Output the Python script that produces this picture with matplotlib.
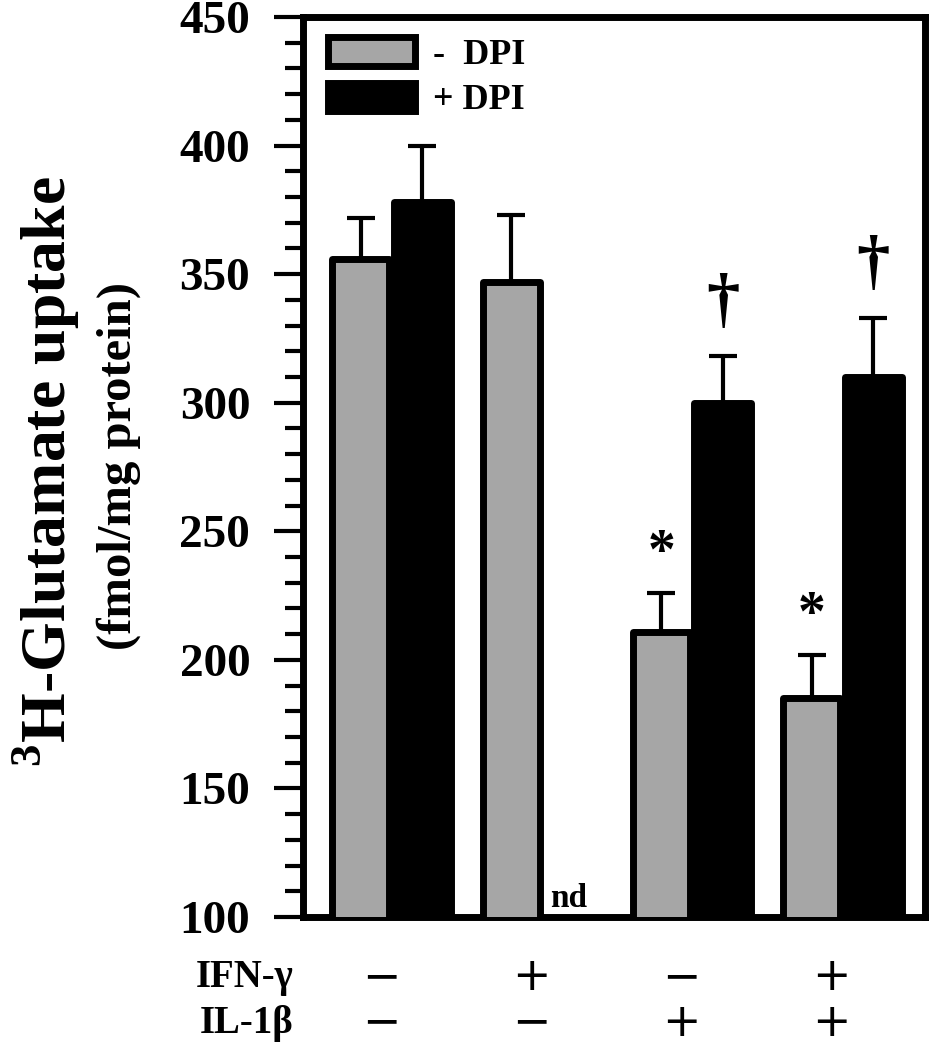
import numpy as np
import matplotlib.pyplot as plt
from matplotlib.ticker import MultipleLocator

plt.rcParams['font.family'] = ['Liberation Serif', 'DejaVu Serif']
plt.rcParams['font.weight'] = 'bold'
plt.rcParams['mathtext.fontset'] = 'custom'
plt.rcParams['mathtext.rm'] = 'Liberation Serif:bold'
plt.rcParams['mathtext.bf'] = 'Liberation Serif:bold'

# data
groups = ['ctrl', 'IFN', 'IL1', 'IFN+IL1']
minus_dpi = [356, 347, 211, 185]
minus_dpi_err = [16, 26, 15, 17]
plus_dpi = [378, np.nan, 300, 310]     # nd for IFN-gamma alone
plus_dpi_err = [22, np.nan, 18, 23]
ifn_row = ['\u2212', '+', '\u2212', '+']
il1_row = ['\u2212', '\u2212', '+', '+']
stars_minus = ['', '', '*', '*']
daggers_plus = ['', '', '\u2020', '\u2020']

gray = '#a6a6a6'
x = np.arange(len(groups))
w = 0.38
off = 0.205

fig = plt.figure(figsize=(9.36, 10.5), dpi=100)
ax = fig.add_axes([0.3237, 0.1267, 0.6645, 0.8571])

ax.bar(x - off, minus_dpi, w, color=gray, edgecolor='black', linewidth=5,
       joinstyle='round', label='-  DPI', zorder=3)
ax.bar(x + off, np.nan_to_num(plus_dpi), w, color='black', edgecolor='black',
       linewidth=5, joinstyle='round', label='+ DPI', zorder=3)

ax.errorbar(x - off, minus_dpi, yerr=[np.zeros(4), minus_dpi_err], fmt='none',
            ecolor='black', elinewidth=3, capsize=10, capthick=3, zorder=2)
ax.errorbar(x + off, plus_dpi, yerr=[np.zeros(4), plus_dpi_err], fmt='none',
            ecolor='black', elinewidth=3, capsize=10, capthick=3, zorder=2)

# significance marks
for i in range(len(groups)):
    if stars_minus[i]:
        ax.annotate(stars_minus[i], (x[i] - off, minus_dpi[i] + minus_dpi_err[i]),
                    xytext=(0, 28), textcoords='offset points', ha='center',
                    va='center', fontsize=40)
    if daggers_plus[i]:
        ax.annotate(daggers_plus[i], (x[i] + off, plus_dpi[i] + plus_dpi_err[i]),
                    xytext=(0, 38), textcoords='offset points', ha='center',
                    va='center', fontsize=48)
    if np.isnan(plus_dpi[i]):
        ax.annotate('nd', (x[i] + off, 100), xytext=(-3, 2), textcoords='offset points',
                    ha='center', va='bottom', fontsize=24)

ax.set_ylim(100, 450)
ax.set_xlim(-0.59, 3.55)
ax.yaxis.set_major_locator(MultipleLocator(50))
ax.yaxis.set_minor_locator(MultipleLocator(10))
ax.tick_params(axis='y', which='major', direction='out', length=21, width=3,
               labelsize=34, pad=17)
ax.tick_params(axis='y', which='minor', direction='out', length=13, width=3)
ax.set_xticks([])
for sp in ax.spines.values():
    sp.set_linewidth(5)

# condition table under the axis
xt = ax.get_xaxis_transform()
for i in range(len(groups)):
    ax.text(x[i] - 0.07, -0.067, ifn_row[i], transform=xt, ha='center', va='center',
            fontsize=33, fontweight='normal', family='DejaVu Sans')
    ax.text(x[i] - 0.07, -0.118, il1_row[i], transform=xt, ha='center', va='center',
            fontsize=33, fontweight='normal', family='DejaVu Sans')
ax.text(-0.016, -0.067, 'IFN-\u03b3', transform=ax.transAxes, ha='right', va='center',
        fontsize=28)
ax.text(-0.016, -0.118, 'IL-1\u03b2', transform=ax.transAxes, ha='right', va='center',
        fontsize=28)

# y label in two lines
fig.text(46 / 936, 1 - 472 / 1050, r'$^{3}$H-Glutamate uptake', rotation=90,
         ha='center', va='center', fontsize=46)
fig.text(119 / 936, 1 - 466 / 1050, '(fmol/mg protein)', rotation=90,
         ha='center', va='center', fontsize=35)

ax.legend(loc='upper left', bbox_to_anchor=(0.04, 0.978), frameon=False, fontsize=26,
          handlelength=2.4, handleheight=0.85, handletextpad=0.5, labelspacing=0.3,
          borderpad=0, borderaxespad=0)

fig.savefig('out.png', dpi=100)
